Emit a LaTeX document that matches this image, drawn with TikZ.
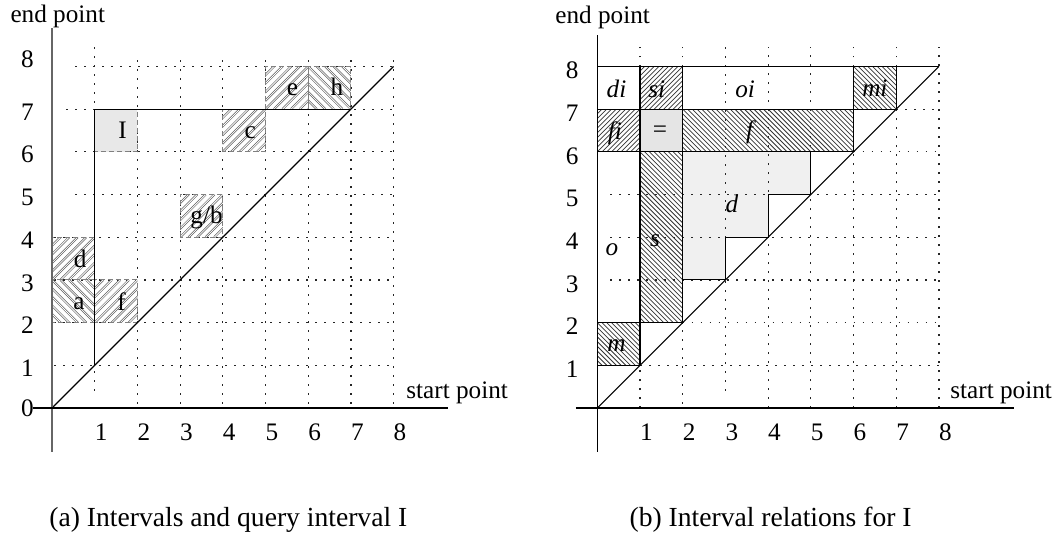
\documentclass[tikz,border=0pt]{standalone}
\usepackage{fontspec}
\setmainfont{Liberation Serif}
\newcommand\hatchNE[6]{%
  \begin{scope}
    \clip (#3,#4) rectangle (#5,#6);
    \pgfmathsetmacro\hH{#6-#4}
    \pgfmathtruncatemacro\hN{((#5-#3)+\hH)/#2+1}
    \foreach \k in {0,...,\hN}{\draw[#1] ({#3-\hH+\k*#2},#4) -- ++(\hH,\hH);}
  \end{scope}}
\newcommand\hatchNW[6]{%
  \begin{scope}
    \clip (#3,#4) rectangle (#5,#6);
    \pgfmathsetmacro\hH{#6-#4}
    \pgfmathtruncatemacro\hN{((#5-#3)+\hH)/#2+1}
    \foreach \k in {0,...,\hN}{\draw[#1] ({#3+\k*#2},#4) -- ++(-\hH,\hH);}
  \end{scope}}
\begin{document}
\begin{tikzpicture}[x=0.5pt,y=-0.5pt,
  lbl/.style={font=\fontsize{12.6}{15}\selectfont, inner sep=0pt, anchor=base},
  ilbl/.style={lbl, font=\fontsize{12.6}{15}\selectfont\itshape},
  capt/.style={font=\fontsize{13.8}{16}\selectfont, inner sep=0pt},
  dotgrid/.style={line width=0.6pt, black!85, dash pattern=on 0.8pt off 3.7pt},
  lhatch/.style={draw=gray!75!black, double=white, double distance=0.4pt, line width=0.33pt},
  rhatch/.style={draw=black!80, line width=0.38pt},
  ldash/.style={draw=gray, line width=0.5pt, dash pattern=on 2.5pt off 1.5pt},
  solidl/.style={draw=black, line width=0.55pt},
  axisv/.style={draw=gray!80!black, line width=0.75pt},
  axish/.style={draw=black, line width=0.6pt}]
\useasboundingbox (0,0) rectangle (1060,536);

% ---------------- left diagram ----------------
\begin{scope}[shift={(52,408)}, x=21.35pt, y=21.35pt]
  \fill[gray!18] (1,6) rectangle (2,7);
  \draw[dotgrid] (1,0.4) -- (1,8.45);
  \foreach \i in {2,...,8} \draw[dotgrid] (\i,0.1) -- (\i,8.2);
  \foreach \j in {1,...,4} \draw[dotgrid] (0.05,\j) -- (8.05,\j);
  \draw[dotgrid] (0.55,5) -- (8.05,5);
  \draw[dotgrid] (0.55,6) -- (8.05,6);
  \draw[dotgrid] (0.33,7) -- (8.05,7);
  \draw[dotgrid] (0.55,8) -- (8.05,8);
  \hatchNE{lhatch}{0.2}{4}{6}{5}{7}
  \hatchNE{lhatch}{0.2}{5}{7}{6}{8}
  \hatchNW{lhatch}{0.2}{6}{7}{7}{8}
  \hatchNE{lhatch}{0.2}{3}{4}{4}{5}
  \hatchNE{lhatch}{0.2}{0}{3}{1}{4}
  \hatchNW{lhatch}{0.2}{0}{2}{1}{3}
  \hatchNE{lhatch}{0.2}{1}{2}{2}{3}
  \foreach \a/\b in {1/6,4/6,5/7,6/7,3/4,0/3,0/2,1/2}
    \draw[ldash] (\a,\b) rectangle ++(1,1);
  \draw[solidl] (0,0) -- (8,8);
  \draw[solidl] (1,1) -- (1,7) -- (7,7);
  \draw[axisv] (0,-1.03) -- (0,8.9);
  \draw[axish] (-0.445,0) -- (9.27,0);
  \node[lbl] (lI) at (1.65,6.30) {I};
  \node[lbl] (lc) at (4.64,6.30) {c};
  \node[lbl] (le) at (5.63,7.32) {e};
  \node[lbl] (lh) at (6.67,7.32) {h};
  \node[lbl] (lgb) at (3.62,4.31) {g/b};
  \node[lbl] (ld) at (0.66,3.30) {d};
  \node[lbl] (la) at (0.63,2.31) {a};
  \node[lbl] (lf) at (1.63,2.29) {f};
  \foreach \j in {1,...,7} \node[lbl] (ly\j) at (-0.574,\j-0.26) {\j};
  \node[lbl] (ly8) at (-0.574,7.97) {8};
  \node[lbl] (ly0) at (-0.574,-0.2) {0};
  \foreach \i in {1,...,8} \node[lbl] (lx\i) at (\i+0.15,-0.75) {\i};
  \node[lbl, anchor=base west] (lsp) at (8.29,0.234) {start point};
  \node[lbl, anchor=base west] (lep) at (-0.98,9.02) {end point};
\end{scope}

% ---------------- right diagram ----------------
\begin{scope}[shift={(597.3,408)}, x=21.35pt, y=21.35pt]
  \fill[gray!20] (1,6) rectangle (2,7);
  \fill[gray!12] (2,3) -- (3,3) -- (3,4) -- (4,4) -- (4,5) -- (5,5) -- (5,6) -- (2,6) -- cycle;
  \draw[dotgrid] (1,8) -- (1,8.45);  \draw[dotgrid] (1,0) -- (1,1);
  \draw[dotgrid] (2,8) -- (2,8.45);  \draw[dotgrid] (2,0.1) -- (2,2);
  \draw[dotgrid] (3,0.4) -- (3,8.45);
  \draw[dotgrid] (4,0) -- (4,8.45);
  \draw[dotgrid] (5,0) -- (5,8.45);
  \draw[dotgrid] (6,8) -- (6,8.45);  \draw[dotgrid] (6,0) -- (6,6);
  \draw[dotgrid] (7,8) -- (7,8.45);  \draw[dotgrid] (7,0) -- (7,7);
  \draw[dotgrid] (8,0) -- (8,8.45);
  \draw[dotgrid] (1,1) -- (8.05,1);
  \draw[dotgrid] (2,2) -- (8.05,2);
  \foreach \j in {3,4,5} \draw[dotgrid] (0.3,\j) -- (8.05,\j);
  \draw[dotgrid] (6,6) -- (8.05,6);
  \draw[dotgrid] (7,7) -- (8.05,7);
  \hatchNW{rhatch}{0.1111}{0}{1}{1}{2}
  \hatchNW{rhatch}{0.1111}{1}{2}{2}{6}
  \hatchNW{rhatch}{0.1111}{2}{6}{6}{7}
  \hatchNW{rhatch}{0.1111}{6}{7}{7}{8}
  \hatchNE{rhatch}{0.1111}{0}{6}{1}{7}
  \hatchNE{rhatch}{0.1111}{1}{7}{2}{8}
  \draw[solidl] (0,0) -- (8,8);
  \draw[solidl] (0,8) -- (8,8);
  \draw[solidl] (0,7) -- (7,7);
  \draw[solidl] (0,6) -- (6,6);
  \draw[solidl] (1,1) -- (1,8);
  \draw[solidl] (2,2) -- (2,8);
  \draw[solidl] (6,6) -- (6,8);
  \draw[solidl] (7,7) -- (7,8);
  \draw[solidl] (0,2) -- (2,2);
  \draw[solidl] (0,1) -- (1,1);
  \draw[solidl] (2,3) -- (3,3) -- (3,4) -- (4,4) -- (4,5) -- (5,5) -- (5,6);
  \draw[axish] (0,-1.03) -- (0,8.74);
  \draw[axish] (-0.5,0) -- (9.77,0);
  \node[ilbl] (rdi) at (0.45,7.27) {di};
  \node[ilbl] (rsi) at (1.39,7.27) {si};
  \node[ilbl] (roi) at (3.46,7.27) {oi};
  \node[ilbl] (rmi) at (6.50,7.30) {mi};
  \node[ilbl] (rfi) at (0.41,6.28) {fi};
  \node[lbl]  (req) at (1.47,6.33) {=};
  \node[ilbl] (rf) at (3.57,6.30) {f};
  \node[ilbl] (rd) at (3.15,4.59) {d};
  \node[ilbl] (ro) at (0.34,3.56) {o};
  \node[ilbl] (rs) at (1.35,3.79) {s};
  \node[ilbl] (rm) at (0.45,1.33) {m};
  \foreach \j in {1,...,8} \node[lbl] (ry\j) at (-0.59,\j-0.29) {\j};
  \foreach \i in {1,...,8} \node[lbl] (rx\i) at (\i+0.15,-0.75) {\i};
  \node[lbl, anchor=base west] (rsp) at (8.26,0.234) {start point};
  \node[lbl, anchor=base west] (rep) at (-0.99,9.0) {end point};
\end{scope}

\node[capt, anchor=base west] (capa) at (49,526) {(a) Intervals and query interval I};
\node[capt, anchor=base east] (capb) at (912,526) {(b) Interval relations for I};
\end{tikzpicture}
\end{document}
